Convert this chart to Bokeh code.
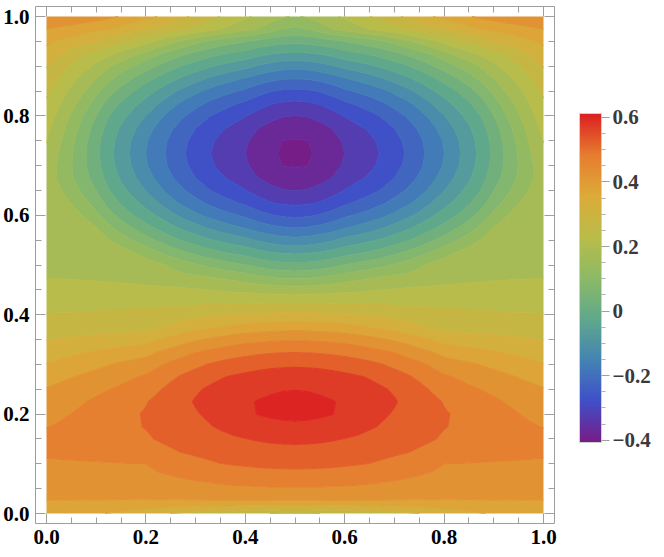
import numpy as np
from bokeh.plotting import figure
from bokeh.models import (LinearAxis, FixedTicker, ColorBar, LinearColorMapper,
                          Range1d, CustomJSTickFormatter, NumeralTickFormatter)
from bokeh.embed import file_html
from bokeh.resources import INLINE

# ---------------- data ----------------
# grid columns of the left half; the field is mirror-symmetric about x = 0.5
x_half = [0.0, 0.025, 0.05, 0.075, 0.10, 0.125, 0.15, 0.175, 0.20, 0.225, 0.25,
          0.275, 0.30, 0.325, 0.35, 0.375, 0.40, 0.425, 0.45, 0.475, 0.50]
y_rows = [0.0, 0.025, 0.05, 0.075, 0.10, 0.125, 0.15, 0.175, 0.20, 0.225, 0.25,
          0.275, 0.30, 0.325, 0.35, 0.375, 0.40, 0.425, 0.45, 0.475, 0.50,
          0.525, 0.55, 0.575, 0.60, 0.625, 0.65, 0.675, 0.70, 0.725, 0.75,
          0.775, 0.80, 0.825, 0.85, 0.875, 0.90, 0.925, 0.95, 0.975, 1.0]
# one row per y value, columns x = 0 ... 0.5
z_half = [
    [.375, .374, .370, .363, .355, .348, .340, .330, .320, .310, .300, .292, .285, .277, .270, .265, .260, .255, .250, .247, .245],
    [.399, .399, .3985, .398, .398, .3975, .397, .397, .3965, .396, .396, .396, .396, .396, .396, .396, .396, .3962, .3965, .3968, .397],
    [.414, .415, .416, .4175, .419, .421, .423, .4255, .428, .430, .432, .434, .436, .438, .440, .4415, .443, .444, .445, .4457, .446],
    [.428, .429, .430, .431, .433, .435, .437, .4395, .442, .445, .449, .4535, .458, .462, .466, .4714, .4754, .4787, .481, .4824, .4829],
    [.443, .4439, .4448, .4457, .4465, .4474, .4483, .4492, .4501, .4596, .4687, .4773, .4851, .4926, .499, .5031, .5062, .5087, .5106, .5117, .512],
    [.458, .460, .462, .464, .466, .468, .470, .472, .4739, .4844, .4947, .5029, .5089, .5144, .5195, .5241, .5279, .531, .5333, .5347, .5352],
    [.466, .4695, .4729, .4764, .4799, .4833, .4868, .4902, .4937, .5035, .511, .5183, .5253, .5319, .538, .5437, .549, .5536, .5578, .5604, .5613],
    [.448, .4548, .4615, .4683, .475, .4818, .4885, .4953, .502, .5138, .5221, .5303, .5382, .546, .5548, .5644, .5731, .5809, .587, .5911, .5925],
    [.433, .4419, .4508, .4596, .4685, .4774, .4863, .4951, .504, .516, .5284, .5372, .546, .5563, .568, .5796, .5909, .601, .6058, .6087, .6097],
    [.418, .4279, .4378, .4476, .4575, .4674, .4773, .4871, .497, .512, .525, .5391, .5536, .5638, .5738, .5839, .5939, .6023, .6071, .610, .611],
    [.403, .4121, .4212, .4303, .4394, .4485, .4576, .4667, .4758, .495, .512, .5279, .5437, .5554, .5644, .5729, .5808, .588, .5937, .5976, .5989],
    [.378, .3878, .3976, .4074, .4172, .4269, .4367, .4465, .4563, .4738, .4908, .5066, .5204, .5336, .546, .5544, .5603, .5653, .5691, .5715, .5723],
    [.352, .361, .3701, .3791, .3882, .3972, .4062, .4153, .4243, .4433, .4596, .4744, .4881, .5011, .5112, .5204, .528, .5345, .5391, .542, .5429],
    [.325, .3322, .3393, .3465, .3536, .3608, .3679, .3751, .3822, .401, .4173, .4325, .447, .4583, .4683, .4771, .4844, .4902, .4944, .4971, .4979],
    [.298, .3022, .3064, .3106, .3148, .3191, .3233, .3275, .3317, .3486, .3644, .3794, .3933, .4055, .4155, .4243, .4315, .4375, .4415, .4443, .445],
    [.274, .2745, .275, .2756, .2761, .2766, .2771, .2777, .2782, .2926, .3064, .3197, .3319, .3428, .3497, .3608, .3678, .3733, .3772, .3797, .3805],
    [.252, .2525, .253, .254, .255, .257, .259, .262, .265, .269, .273, .278, .283, .288, .293, .298, .302, .305, .308, .310, .311],
    [.235, .2355, .236, .2365, .237, .2375, .238, .2385, .239, .2392, .2395, .240, .2405, .241, .2413, .2418, .2422, .2427, .2431, .2436, .244],
    [.2161, .2165, .2168, .217, .2171, .2167, .2161, .2152, .214, .2122, .2102, .2073, .204, .1998, .1954, .1914, .1873, .1828, .1784, .1765, .1748],
    [.1986, .1977, .1968, .1951, .1934, .1904, .1874, .1832, .179, .1734, .1677, .164, .160, .153, .1448, .1344, .1244, .1106, .1006, .0931, .0906],
    [.195, .195, .195, .195, .195, .195, .195, .193, .178, .161, .1415, .1224, .1059, .0894, .075, .0631, .0516, .0356, .0234, .0153, .0125],
    [.190, .190, .190, .190, .190, .186, .170, .151, .1271, .1038, .0794, .0575, .0381, .0197, .0041, -.0081, -.0194, -.0356, -.0472, -.0559, -.0588],
    [.185, .185, .185, .183, .176, .153, .1253, .0984, .0706, .0441, .0175, -.0058, -.0244, -.0428, -.0585, -.0724, -.0859, -.105, -.1203, -.1309, -.1344],
    [.180, .180, .179, .1755, .1503, .1115, .0769, .0463, .0166, -.0108, -.0364, -.0603, -.0818, -.1038, -.1231, -.1394, -.1545, -.173, -.187, -.1968, -.200],
    [.176, .176, .174, .1453, .1118, .0691, .0319, -.0006, -.0289, -.0568, -.0862, -.1144, -.1397, -.162, -.1795, -.1943, -.2093, -.2305, -.247, -.2571, -.2604],
    [.173, .172, .1479, .1138, .0778, .0319, -.0064, -.0369, -.0682, -.0997, -.1334, -.162, -.1845, -.207, -.2268, -.2438, -.2592, -.28, -.2965, -.3067, -.310],
    [.172, .1575, .1235, .0878, .0494, .0019, -.0347, -.0682, -.1019, -.1375, -.169, -.1965, -.2213, -.2463, -.2654, -.2815, -.2983, -.3187, -.335, -.3473, -.3513],
    [.175, .1418, .1059, .0678, .0284, -.0183, -.0565, -.0921, -.1291, -.163, -.194, -.2233, -.250, -.2729, -.2935, -.3095, -.325, -.349, -.3664, -.3783, -.3822],
    [.180, .1425, .1018, .0593, .0156, -.0306, -.0703, -.1072, -.1459, -.1775, -.2095, -.2403, -.2654, -.2898, -.3097, -.3258, -.3433, -.3675, -.386, -.4005, -.403],
    [.190, .1486, .1044, .0585, .0113, -.0347, -.075, -.1125, -.151, -.1825, -.215, -.246, -.271, -.296, -.315, -.332, -.350, -.374, -.393, -.405, -.407],
    [.202, .159, .1128, .0648, .0156, -.0306, -.0703, -.1072, -.1459, -.1775, -.2095, -.2403, -.2654, -.2898, -.3097, -.3258, -.3433, -.3675, -.386, -.4005, -.403],
    [.213, .1712, .1255, .0776, .0284, -.0183, -.0565, -.0921, -.1291, -.163, -.194, -.2233, -.250, -.2729, -.2935, -.3095, -.325, -.349, -.3664, -.3783, -.3822],
    [.228, .1879, .1438, .0979, .0494, .0019, -.0347, -.0682, -.1019, -.1375, -.169, -.1965, -.2213, -.2463, -.2654, -.2815, -.2983, -.3187, -.335, -.3473, -.3513],
    [.243, .2047, .1662, .1229, .0778, .0319, -.0064, -.0369, -.0682, -.0997, -.1334, -.162, -.1845, -.207, -.2268, -.2438, -.2592, -.28, -.2965, -.3067, -.310],
    [.260, .2241, .1887, .1527, .1118, .0691, .0319, -.0006, -.0289, -.0568, -.0862, -.1144, -.1397, -.162, -.1795, -.1943, -.2093, -.2305, -.247, -.2571, -.2604],
    [.280, .2473, .2148, .1828, .1503, .1115, .0769, .0463, .0166, -.0108, -.0364, -.0603, -.0818, -.1038, -.1231, -.1394, -.1545, -.173, -.187, -.1968, -.200],
    [.303, .2736, .2445, .2158, .1868, .1555, .1253, .0984, .0706, .0441, .0175, -.0058, -.0244, -.0428, -.0585, -.0724, -.0859, -.105, -.1203, -.1309, -.1344],
    [.330, .3038, .278, .2526, .235, .210, .185, .160, .135, .1038, .0794, .0575, .0381, .0197, .0041, -.0081, -.0194, -.0356, -.0472, -.0559, -.0588],
    [.360, .345, .330, .315, .298, .280, .260, .238, .215, .190, .165, .140, .115, .095, .078, .064, .052, .036, .024, .016, .0125],
    [.400, .390, .381, .371, .362, .352, .336, .318, .300, .284, .268, .253, .236, .218, .200, .183, .165, .150, .125, .100, .0906],
    [.445, .444, .440, .432, .422, .410, .397, .382, .366, .348, .329, .309, .289, .269, .249, .229, .209, .190, .172, .156, .145],
]
z_low, z_high = -0.407, 0.612          # range of the data (colour bar span)

levels = [-0.45, -0.40, -0.35, -0.30, -0.25, -0.20, -0.15, -0.10, -0.05, 0.0,
          0.05, 0.10, 0.15, 0.20, 0.25, 0.30, 0.35, 0.40, 0.45, 0.50, 0.55, 0.60, 0.65]

axis_major = [0.0, 0.2, 0.4, 0.6, 0.8, 1.0]
axis_minor = [0.05, 0.10, 0.15, 0.25, 0.30, 0.35, 0.45, 0.50, 0.55,
              0.65, 0.70, 0.75, 0.85, 0.90, 0.95]
bar_major = [-0.4, -0.2, 0.0, 0.2, 0.4, 0.6]
bar_minor = [-0.35, -0.30, -0.25, -0.15, -0.10, -0.05, 0.05, 0.10, 0.15,
             0.25, 0.30, 0.35, 0.45, 0.50, 0.55]

# ---------------- colours (Rainbow gradient) ----------------
rainbow = ["#781c86", "#404fc8", "#4384b4", "#60a88c", "#8cba66",
           "#b9bc49", "#dcab39", "#e67d2f", "#db2122"]


def _rgb(h):
    return [int(h[i:i + 2], 16) for i in (1, 3, 5)]


def cmap(t):
    t = min(max(t, 0.0), 1.0)
    s = t * (len(rainbow) - 1)
    i = min(int(s), len(rainbow) - 2)
    f = s - i
    a, b = _rgb(rainbow[i]), _rgb(rainbow[i + 1])
    c = [round(a[k] + (b[k] - a[k]) * f) for k in range(3)]
    return "#%02x%02x%02x" % tuple(c)


band_colors = []
for lo, hi in zip(levels[:-1], levels[1:]):
    mid = (max(lo, z_low) + min(hi, z_high)) / 2.0
    band_colors.append(cmap((mid - z_low) / (z_high - z_low)))
# each contour line takes the colour of the band just above it (hides seams)
line_colors = band_colors + [band_colors[-1]]

palette = [cmap(i / 255.0) for i in range(256)]

# full grid (mirror the left half)
x_full = x_half + [round(1.0 - v, 3) for v in reversed(x_half[:-1])]
z_full = np.array([row + row[-2::-1] for row in z_half])

# ---------------- figure ----------------
p = figure(frame_width=519, frame_height=517, output_backend="svg",
           toolbar_location=None,
           x_range=Range1d(-11 / 497, 1 + 11 / 497),
           y_range=Range1d(-10 / 497, 1 + 10 / 497),
           x_axis_location=None, y_axis_location=None,
           min_border_left=33, min_border_right=112,
           min_border_top=6, min_border_bottom=34)
p.grid.visible = False
p.outline_line_color = None
p.background_fill_color = "white"
p.border_fill_color = "white"

p.contour(x=x_full, y=y_rows, z=z_full, levels=levels,
          fill_color=band_colors, line_color=line_colors, line_width=1.1)

FRAME = "#9e9e9e"
FONT = "Liberation Serif"


def make_axis(labels):
    ax = LinearAxis(ticker=FixedTicker(ticks=axis_major, minor_ticks=axis_minor),
                    formatter=NumeralTickFormatter(format="0.0"))
    ax.axis_line_color = FRAME
    ax.major_tick_line_color = FRAME
    ax.minor_tick_line_color = FRAME
    ax.major_tick_in = 10
    ax.major_tick_out = 0
    ax.minor_tick_in = 6
    ax.minor_tick_out = 0
    if labels:
        ax.major_label_text_font = FONT
        ax.major_label_text_font_style = "bold"
        ax.major_label_text_font_size = "21px"
        ax.major_label_text_color = "black"
        ax.major_label_standoff = 6
    else:
        ax.major_label_text_color = None
        ax.major_label_text_font_size = "0px"
        ax.major_label_standoff = 0
    return ax


p.add_layout(make_axis(True), "below")
p.add_layout(make_axis(True), "left")
p.add_layout(make_axis(False), "above")
p.add_layout(make_axis(False), "right")

mapper = LinearColorMapper(palette=palette, low=z_low, high=z_high)
cb = ColorBar(color_mapper=mapper,
              ticker=FixedTicker(ticks=bar_major, minor_ticks=bar_minor),
              formatter=CustomJSTickFormatter(code="""
                  if (Math.abs(tick) < 1e-9) { return '0'; }
                  if (tick < 0) { return '\u2212' + (-tick).toFixed(1); }
                  return tick.toFixed(1);
              """),
              location=(25, 81), width=22, height=329, padding=0, margin=0,
              major_tick_in=0, major_tick_out=8, minor_tick_in=0, minor_tick_out=4,
              major_tick_line_color="#a0a0a0", minor_tick_line_color="#b0b0b0",
              bar_line_color="#d0d0d0", label_standoff=3,
              major_label_text_font=FONT, major_label_text_font_style="bold",
              major_label_text_font_size="21px", major_label_text_color="#3a3a3a",
              background_fill_color=None, border_line_color=None)
p.add_layout(cb, "right")

open("out.html", "w").write(file_html(p, INLINE))
